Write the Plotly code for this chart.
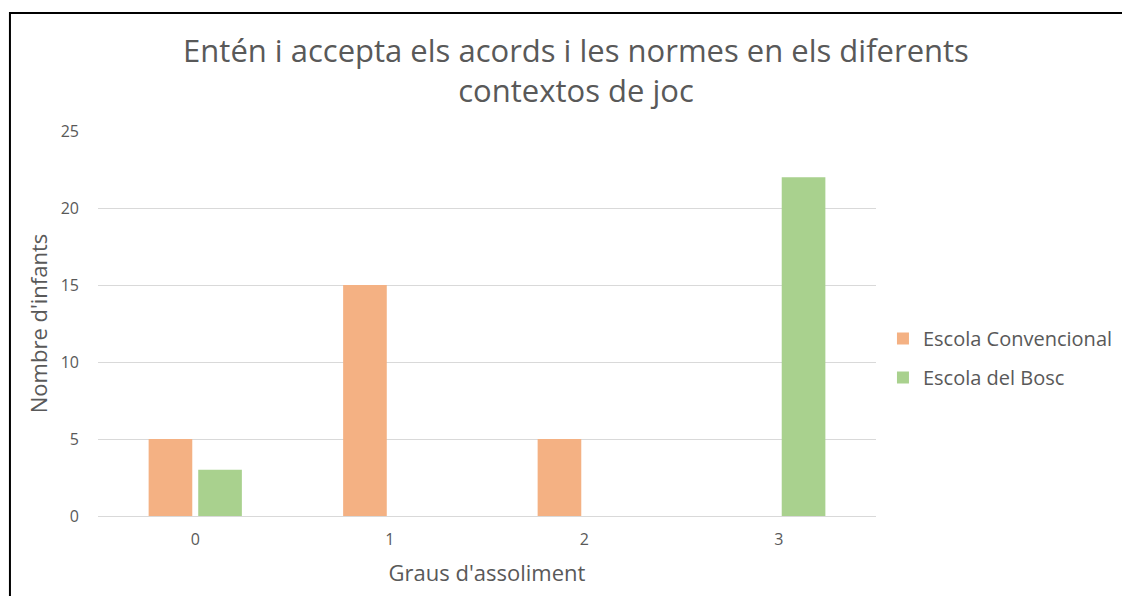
import plotly.graph_objects as go

# data
categories = ["0", "1", "2", "3"]
escola_convencional = [5, 15, 5, 0]
escola_bosc = [3, 0, 0, 22]

# the page body has an 8px margin, so work in window pixels and shift
off = 8
W, H = 1130 - off, 596 - off
plot_left, plot_right, plot_top, plot_bottom = 98, 880, 131, 516
ml = plot_left - off
mt = plot_top - off
mr = W - (plot_right - off)
mb = H - (plot_bottom - off)
font_family = "Open Sans, sans-serif"
txt = "#595959"

fig = go.Figure()
fig.add_trace(go.Bar(x=categories, y=escola_convencional, name="Escola Convencional",
                     marker=dict(color="#F4B183", line=dict(width=0)), legendgroup="a"))
fig.add_trace(go.Bar(x=categories, y=escola_bosc, name="Escola del Bosc",
                     marker=dict(color="#A9D18E", line=dict(width=0)), legendgroup="b"))

pw = plot_right - plot_left
ph = plot_bottom - plot_top
def px_x(v):
    return (v - plot_left) / pw
def px_y(v):
    return (plot_bottom - v) / ph

# black frame around the chart area (cut off at right/bottom)
fig.add_shape(type="rect", xref="paper", yref="paper",
              x0=px_x(9.5), x1=px_x(1150), y0=px_y(620), y1=px_y(13),
              line=dict(color="black", width=2), fillcolor="rgba(0,0,0,0)")

fig.update_layout(
    width=W, height=H,
    margin=dict(l=ml, r=mr, t=mt, b=mb),
    paper_bgcolor="white", plot_bgcolor="white",
    font=dict(family=font_family, color=txt),
    barmode="group", bargap=0.49, bargroupgap=0.12,
    title=dict(text="Entén i accepta els acords i les normes en els diferents<br>contextos de joc",
               x=(576 - off) / W, xanchor="center", y=1 - (62 - off) / H, yanchor="middle",
               font=dict(size=31, color=txt)),
    legend=dict(x=px_x(887), y=px_y(358), yanchor="middle", xanchor="left",
                font=dict(size=20, color=txt), tracegroupgap=10,
                traceorder="grouped", bgcolor="rgba(0,0,0,0)"),
    xaxis=dict(title=dict(text="Graus d'assoliment", font=dict(size=22, color=txt), standoff=16),
               tickfont=dict(size=16, color=txt), ticklabelstandoff=12,
               showline=False, showgrid=False),
    yaxis=dict(title=dict(text="Nombre d'infants", font=dict(size=22, color=txt), standoff=7),
               range=[0, 25], dtick=5, tickfont=dict(size=16, color=txt),
               ticklabelstandoff=18, gridcolor="#D9D9D9", gridwidth=1,
               zeroline=True, zerolinecolor="#D9D9D9", zerolinewidth=1,
               showline=False),
)

fig.write_html("out.html")
